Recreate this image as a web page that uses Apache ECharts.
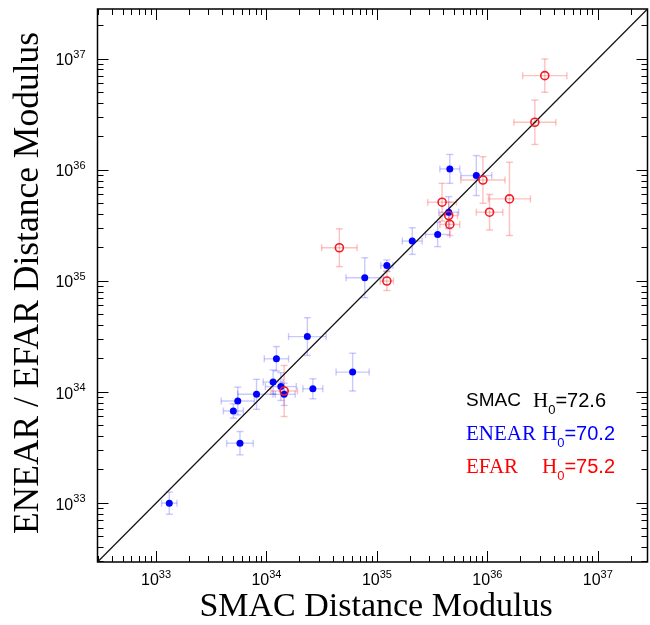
<!DOCTYPE html>
<html><head><meta charset="utf-8">
<script src="https://cdn.jsdelivr.net/npm/echarts@6/dist/echarts.min.js"></script>
<style>html,body{margin:0;padding:0;background:#fff}#c{width:650px;height:625px}</style>
</head><body><div id="c"></div>
<script>
// log10 extent of both axes
const axisRange = [32.47, 37.45];
const majorExp = [33, 34, 35, 36, 37];
const minorMult = [2, 3, 4, 5, 6, 7, 8, 9];

// ENEAR (blue): log10(SMAC modulus), log10(ENEAR modulus), errors in dex
const enearX  = [33.12, 33.76, 33.70, 33.74, 33.91, 34.06, 34.13, 34.16, 34.09, 34.37, 34.42, 34.78, 34.89, 35.09, 35.32, 35.55, 35.65, 35.66, 35.90];
const enearY  = [33.00, 33.54, 33.83, 33.92, 33.98, 34.09, 34.05, 33.98, 34.30, 34.50, 34.03, 34.18, 35.03, 35.14, 35.36, 35.42, 35.62, 36.01, 35.95];
const enearEx = [0.07, 0.12, 0.09, 0.15, 0.17, 0.09, 0.14, 0.10, 0.11, 0.17, 0.09, 0.15, 0.17, 0.055, 0.09, 0.11, 0.09, 0.09, 0.14];
const enearEy = [0.10, 0.105, 0.065, 0.125, 0.135, 0.11, 0.125, 0.10, 0.11, 0.17, 0.09, 0.17, 0.18, 0.05, 0.12, 0.11, 0.14, 0.13, 0.18];

// EFAR (red)
const efarX  = [34.16, 34.66, 35.09, 35.59, 35.65, 35.66, 35.96, 36.02, 36.20, 36.43, 36.52];
const efarY  = [34.01, 35.30, 35.00, 35.71, 35.59, 35.51, 35.91, 35.62, 35.74, 36.43, 36.85];
const efarEx = [0.12, 0.16, 0.06, 0.13, 0.08, 0.09, 0.20, 0.12, 0.19, 0.19, 0.20];
const efarEy = [0.23, 0.17, 0.085, 0.17, 0.12, 0.10, 0.21, 0.16, 0.33, 0.20, 0.15];

const legendNames = ['SMAC', 'ENEAR', 'EFAR'];
const legendH0 = ['72.6', '70.2', '75.2'];
const legendColors = ['#000000', '#0000ff', '#ff0000'];

const xTitle = 'SMAC Distance Modulus';
const yTitle = 'ENEAR / EFAR Distance Modulus';

const minorTicks = [];
for (let n = 32; n <= 37; n++) {
  minorMult.forEach(k => {
    const v = n + Math.log10(k);
    if (v > axisRange[0] && v < axisRange[1]) minorTicks.push(v);
  });
}

function zip4(a, b, c, d) { return a.map((v, i) => [v, b[i], c[i], d[i]]); }

function errRender(color) {
  return function (params, api) {
    const x = api.value(0), y = api.value(1), ex = api.value(2), ey = api.value(3);
    const l = api.coord([x - ex, y]), r = api.coord([x + ex, y]);
    const t = api.coord([x, y + ey]), b = api.coord([x, y - ey]);
    const c = 3.5;
    const style = { stroke: color, lineWidth: 1.4, fill: null };
    const ln = (x1, y1, x2, y2) => ({ type: 'line', shape: { x1, y1, x2, y2 }, style });
    return {
      type: 'group', children: [
        ln(l[0], l[1], r[0], r[1]),
        ln(t[0], t[1], b[0], b[1]),
        ln(l[0], l[1] - c, l[0], l[1] + c),
        ln(r[0], r[1] - c, r[0], r[1] + c),
        ln(t[0] - c, t[1], t[0] + c, t[1]),
        ln(b[0] - c, b[1], b[0] + c, b[1])
      ]
    };
  };
}

const labelRich = {
  b: { fontFamily: 'Liberation Sans', fontSize: 16, lineHeight: 20, verticalAlign: 'bottom', color: '#000' },
  s: { fontFamily: 'Liberation Sans', fontSize: 11, lineHeight: 12, verticalAlign: 'top', color: '#000' }
};

function mkAxis(pos, ticks, len, withLabels, margin) {
  return {
    type: 'value', min: axisRange[0], max: axisRange[1], position: pos,
    axisLine: { show: false, onZero: false },
    splitLine: { show: false },
    axisTick: { show: true, inside: true, length: len, customValues: ticks, lineStyle: { color: '#000', width: 1 } },
    axisLabel: withLabels ? {
      show: true, customValues: majorExp, margin: margin,
      formatter: v => '{b|10}{s|' + Math.round(v) + '}', rich: labelRich
    } : { show: false }
  };
}

const chart = echarts.init(document.getElementById('c'), null, { renderer: 'canvas' });

const graphics = [
  { type: 'text', x: 376, y: 607, style: { text: xTitle, font: '34px "Liberation Serif"', fill: '#000', textAlign: 'center', textVerticalAlign: 'middle' } },
  { type: 'text', x: 29, y: 283, rotation: Math.PI / 2, style: { text: yTitle, font: '35.5px "Liberation Serif"', fill: '#000', textAlign: 'center', textVerticalAlign: 'middle' } }
];
const legY = [401, 434, 467];
const legHx = [533, 542, 542];
legendNames.forEach((nm, i) => {
  graphics.push({ type: 'text', x: 466, y: legY[i], style: {
    text: nm, font: i === 0 ? '19px "Liberation Sans"' : '21px "Liberation Serif"',
    fill: legendColors[i], textAlign: 'left', textVerticalAlign: 'middle' } });
  graphics.push({ type: 'text', x: legHx[i], y: legY[i] + 3, style: {
    text: '{h|H}{sub|0}{v|=' + legendH0[i] + '}',
    fill: legendColors[i], textAlign: 'left', textVerticalAlign: 'middle',
    rich: {
      h: { fontFamily: 'Liberation Serif', fontSize: 21, lineHeight: 26, verticalAlign: 'top', fill: legendColors[i] },
      sub: { fontFamily: 'Liberation Sans', fontSize: 13, lineHeight: 12, verticalAlign: 'bottom', fill: legendColors[i] },
      v: { fontFamily: 'Liberation Sans', fontSize: 20, lineHeight: 26, verticalAlign: 'top', fill: legendColors[i] }
    } } });
});

chart.setOption({
  animation: false,
  backgroundColor: '#fff',
  grid: { left: 97.5, top: 9, width: 550, height: 553, show: true, borderColor: '#000', borderWidth: 1.5, backgroundColor: 'transparent', outerBoundsMode: 'none' },
  xAxis: [
    mkAxis('bottom', majorExp, 11, true, 7),
    mkAxis('bottom', minorTicks, 6, false),
    mkAxis('top', majorExp, 11, false),
    mkAxis('top', minorTicks, 6, false)
  ],
  yAxis: [
    mkAxis('left', majorExp, 11, true, 12),
    mkAxis('left', minorTicks, 6, false),
    mkAxis('right', majorExp, 11, false),
    mkAxis('right', minorTicks, 6, false)
  ],
  graphic: graphics,
  series: [
    { type: 'custom', name: 'ENEAR err', renderItem: errRender('rgba(60,60,255,0.28)'), data: zip4(enearX, enearY, enearEx, enearEy), encode: { x: 0, y: 1 }, z: 1, silent: true },
    { type: 'custom', name: 'EFAR err', renderItem: errRender('rgba(255,60,60,0.32)'), data: zip4(efarX, efarY, efarEx, efarEy), encode: { x: 0, y: 1 }, z: 1, silent: true },
    { type: 'line', name: 'SMAC', data: [[axisRange[0], axisRange[0]], [axisRange[1], axisRange[1]]], symbol: 'none', lineStyle: { color: '#111', width: 1.2 }, z: 2 },
    { type: 'scatter', name: 'ENEAR', data: enearX.map((v, i) => [v, enearY[i]]), symbol: 'circle', symbolSize: 7, itemStyle: { color: '#0000ff', opacity: 1 }, z: 3 },
    { type: 'scatter', name: 'EFAR', data: efarX.map((v, i) => [v, efarY[i]]), symbol: 'circle', symbolSize: 8, itemStyle: { color: 'rgba(255,255,255,0)', borderColor: '#ee1c24', borderWidth: 1.6, opacity: 1 }, z: 4 }
  ]
});
</script>
</body></html>
